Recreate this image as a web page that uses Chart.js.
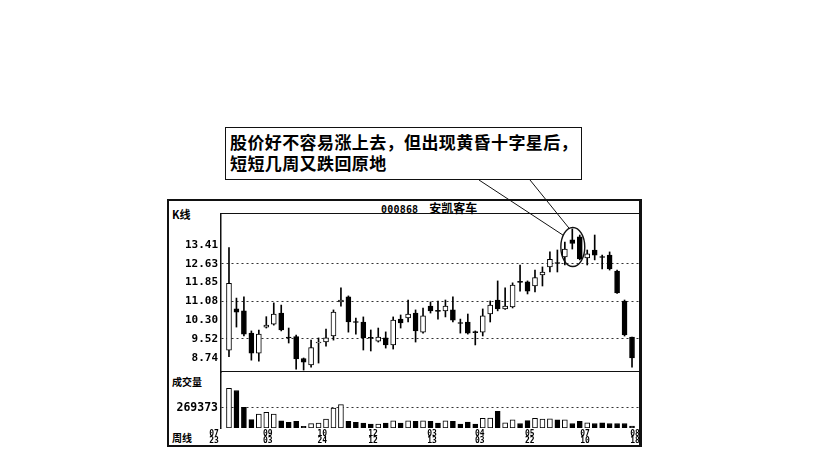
<!DOCTYPE html>
<html>
<head>
<meta charset="utf-8">
<script src="https://cdn.jsdelivr.net/npm/chart.js@4.4.1/dist/chart.umd.min.js"></script>
<style>
html,body{margin:0;padding:0;background:#fff;}
body{width:832px;height:459px;overflow:hidden;position:relative;font-family:"Noto Sans CJK SC","Noto Sans",sans-serif;color:#000;}
.abs{position:absolute;}
#frame{left:167px;top:199px;width:475px;height:248px;box-sizing:border-box;border:2px solid #111;border-right-width:3px;}
#plotTop{left:221px;top:213px;width:419px;height:0;border-top:1.5px solid #111;}
#paneSep{left:221px;top:371px;width:419px;height:0;border-top:1.5px solid #111;}
.lbl{font-size:11px;font-weight:bold;line-height:1;white-space:nowrap;}
#title{left:381px;top:202px;}
#title .code{font-family:"DejaVu Sans Mono",monospace;font-size:10px;font-weight:bold;letter-spacing:0.2px;}
#title .name{font-size:12px;font-weight:bold;margin-left:11px;}
#note{left:225px;top:127px;width:357px;height:53px;box-sizing:border-box;border:1.5px solid #111;background:#fff;
  font-size:17px;line-height:21px;letter-spacing:0.4px;padding:3px 0 0 4px;font-weight:600;z-index:5;white-space:nowrap;}
canvas{position:absolute;}
#priceCanvas{left:0;top:0;z-index:2;}
#volCanvas{left:168px;top:372px;z-index:3;}
</style>
</head>
<body>
<div id="frame" class="abs"></div>
<div id="plotTop" class="abs"></div>
<div id="paneSep" class="abs"></div>
<div id="title" class="abs lbl"><span class="code">000868</span><span class="name">安凯客车</span></div>
<div class="abs lbl" style="left:172px;top:209px;font-size:11px;">K线</div>
<div class="abs lbl" style="left:172px;top:377px;font-size:10px;">成交量</div>
<div class="abs lbl" style="left:172px;top:433px;font-size:10px;">周线</div>
<div id="note" class="abs">股价好不容易涨上去，但出现黄昏十字星后，<br>短短几周又跌回原地</div>
<canvas id="priceCanvas" width="832" height="459"></canvas>
<canvas id="volCanvas" width="473" height="74"></canvas>
<script>
// ---- data (weekly candles, 000868 安凯客车) ----
const opens  = [9.05,10.76,10.68,9.76,8.93,10.01,10.13,10.59,9.60,9.62,8.71,8.44,9.35,9.39,9.64,11.05,11.26,10.24,10.22,9.58,9.43,9.56,9.27,10.34,10.39,10.59,9.80,10.88,10.70,10.68,10.72,10.20,10.22,9.82,9.80,10.55,11.13,10.76,10.84,11.90,11.88,11.71,12.17,12.50,12.68,12.91,13.62,13.74,12.87,13.20,12.93,12.99,12.33,11.09,9.60];
const closes = [11.82,10.63,9.72,8.93,9.72,10.09,10.55,9.89,9.57,8.69,8.56,9.16,9.39,9.56,10.63,11.13,10.22,10.20,9.56,9.55,9.60,9.27,10.30,10.18,10.55,9.85,10.47,10.68,10.66,10.88,10.30,10.16,9.76,9.78,10.47,10.92,10.76,10.88,11.75,11.86,11.50,12.06,12.29,12.81,12.64,13.24,13.47,12.83,13.04,12.99,12.89,12.42,11.42,9.68,8.73];
const highs  = [13.30,11.21,11.26,9.85,9.89,10.44,11.01,10.92,9.97,9.68,8.73,9.47,9.56,9.93,10.72,11.63,11.30,10.38,10.43,9.89,9.97,9.81,10.43,10.51,11.13,10.72,10.80,11.05,11.09,11.13,11.26,10.34,10.55,9.85,10.76,11.09,11.92,11.63,11.84,12.58,11.92,12.37,12.50,13.12,13.20,13.53,14.07,13.82,13.20,13.82,12.99,13.12,12.37,11.13,9.60];
const lows   = [8.78,10.01,9.64,8.64,8.60,9.97,10.09,9.85,9.35,8.27,8.23,8.35,8.52,9.22,9.47,10.88,9.80,9.72,9.06,9.02,9.39,9.14,9.10,9.97,10.22,9.39,9.76,10.59,10.34,10.43,10.22,9.76,9.72,9.27,9.64,10.22,10.68,10.74,10.80,11.50,11.38,11.46,11.71,12.29,12.29,12.58,13.24,12.79,12.58,12.79,12.42,12.37,11.40,9.64,8.35];
const volumes = [535000,505000,277000,112000,189000,210000,189000,98000,76000,90000,22000,58000,67000,121000,269000,314000,90000,76000,67000,54000,54000,67000,98000,67000,98000,90000,98000,90000,67000,98000,90000,54000,80000,54000,130000,135000,224000,70000,110000,60000,100000,130000,120000,125000,110000,110000,60000,90000,70000,60000,70000,60000,60000,60000,25000];
const priceTicks = [8.74,9.52,10.30,11.08,11.85,12.63,13.41];
const priceGrid  = [9.52,11.08,12.63];
const volTicks   = [269373];
const dateLabels = [['07','23'],['09','03'],['10','24'],['12','12'],['03','13'],['04','03'],['05','22'],['07','10'],['08','18']];
const datePos    = [-2,5.2,12.5,19.3,27.2,33.6,40.3,47.7,54.4];
const starGroup  = [45,47]; // candles circled around the evening doji star

const idx = opens.map((_,i)=>i);
const isUp = i => closes[i] >= opens[i];
const X_MIN = -1.07, X_MAX = 55.07;
const monoBold = (s)=>({family:'"DejaVu Sans Mono", monospace', size:s, weight:'bold'});
const noPad = s => { s.paddingTop = 0; s.paddingBottom = 0; s.paddingLeft = 0; s.paddingRight = 0; };

const annot = {
  id:'annot',
  afterDraw(chart){
    const {ctx, scales:{x,y}} = chart;
    const [a,b] = starGroup;
    const hi = Math.max(...highs.slice(a,b+1)), lo = Math.min(...lows.slice(a,b+1));
    const xa = x.getPixelForValue(a), xb = x.getPixelForValue(b);
    const cx = (xa+xb)/2 + 0.5, cy = (y.getPixelForValue(hi)+y.getPixelForValue(lo))/2;
    const rx = (xb-xa)/2 + 4.5, ry = (y.getPixelForValue(lo)-y.getPixelForValue(hi))/2 + 1.5;
    ctx.save();
    ctx.strokeStyle = '#111';
    ctx.lineWidth = 1.4;
    ctx.beginPath(); ctx.ellipse(cx,cy,rx,ry,0,0,Math.PI*2); ctx.stroke();
    const box = document.getElementById('note').getBoundingClientRect();
    const ends = [[-0.8,-0.6,254],[-0.3,-0.954,305]];
    ctx.lineWidth = 1;
    ends.forEach(([c,s,off])=>{
      ctx.beginPath();
      ctx.moveTo(box.left+off, box.bottom);
      ctx.lineTo(cx+rx*c, cy+ry*s);
      ctx.stroke();
    });
    ctx.restore();
  }
};

new Chart(document.getElementById('priceCanvas'), {
  type:'bar',
  data:{datasets:[
    {label:'wick', data: idx.map(i=>({x:i, y:[lows[i],highs[i]]})), backgroundColor:'#000', borderWidth:0, barThickness:1, grouped:false, order:2},
    {label:'body', data: idx.map(i=>({x:i, y:[opens[i],closes[i]]})),
      backgroundColor: idx.map(i=>isUp(i)?'#fff':'#000'), borderColor:'#000', borderWidth:1, borderSkipped:false,
      barThickness:5, grouped:false, order:1}
  ]},
  options:{
    responsive:false, animation:false, events:[],
    layout:{padding:{left:168, top:214, right:192, bottom:87}},
    plugins:{legend:{display:false}, tooltip:{enabled:false}},
    scales:{
      x:{type:'linear', min:X_MIN, max:X_MAX, offset:false, display:false, grid:{offset:false}},
      y:{type:'linear', min:8.15, max:14.69,
        afterBuildTicks:s=>{s.ticks = priceTicks.map(v=>({value:v}));},
        afterFit:s=>{s.width = 53; noPad(s);},
        ticks:{color:'#000', font:monoBold(11), padding:3, callback:v=>Number(v).toFixed(2)},
        grid:{drawTicks:false, tickLength:0, lineWidth:1,
          color:c=> (c.tick && priceGrid.some(g=>Math.abs(g-c.tick.value)<1e-6)) ? '#333' : 'rgba(0,0,0,0)'},
        border:{display:true, color:'#111', width:1.5, dash:[2,3]}
      }
    }
  },
  plugins:[annot]
});

new Chart(document.getElementById('volCanvas'), {
  type:'bar',
  data:{datasets:[
    {label:'volume', data: idx.map(i=>({x:i, y:volumes[i]})),
      backgroundColor: idx.map(i=>isUp(i)?'#fff':'#000'), borderColor:'#000', borderWidth:1, borderSkipped:false,
      barThickness:5}
  ]},
  options:{
    responsive:false, animation:false, events:[],
    layout:{padding:{left:0, top:0, right:1, bottom:0}},
    plugins:{legend:{display:false}, tooltip:{enabled:false}},
    scales:{
      x:{type:'linear', min:X_MIN, max:X_MAX, offset:false, position:'bottom',
        afterBuildTicks:s=>{s.ticks = datePos.map(v=>({value:v}));},
        afterFit:s=>{s.height = 18; noPad(s);},
        ticks:{autoSkip:false, maxRotation:0, minRotation:0, padding:2, color:'#000',
          font:{family:'"DejaVu Sans Mono", monospace', size:8, weight:'bold', lineHeight:0.95},
          callback:(v,k)=>dateLabels[k]},
        grid:{display:false, drawTicks:false, tickLength:0, offset:false}, border:{display:false}
      },
      y:{type:'linear', min:0, max:754000,
        afterBuildTicks:s=>{s.ticks = volTicks.map(v=>({value:v}));},
        afterFit:s=>{s.width = 53; noPad(s);},
        ticks:{color:'#000', font:monoBold(11.5), padding:3, callback:v=>String(v)},
        grid:{drawTicks:false, tickLength:0, lineWidth:1, color:'#333'},
        border:{display:true, color:'#111', width:1.5, dash:[2,3]}
      }
    }
  }
});
</script>
</body>
</html>
